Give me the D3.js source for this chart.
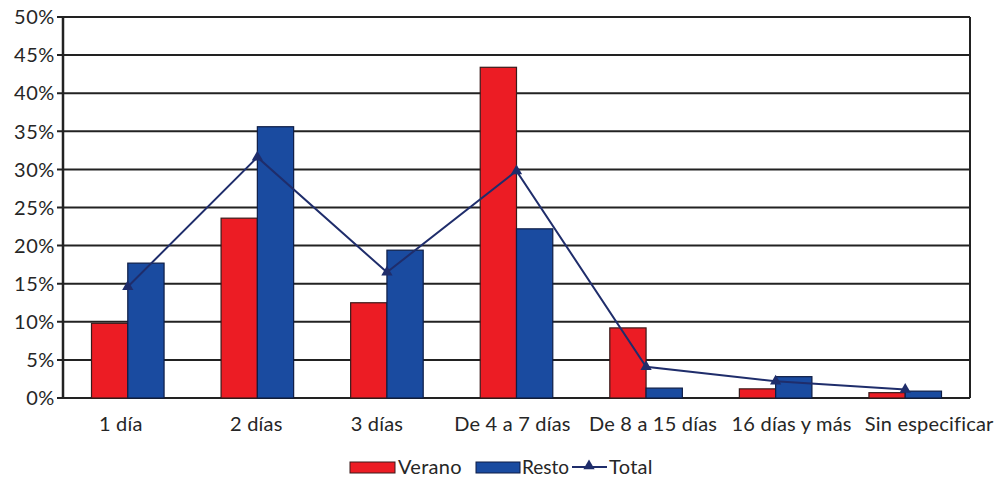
<!DOCTYPE html>
<html><head><meta charset="utf-8">
<script src="https://cdn.jsdelivr.net/npm/d3@7"></script>
<style>body{margin:0;background:#fff}svg{display:block}text{font-family:Lato,"Open Sans",sans-serif;fill:#262626}</style>
</head><body><svg id="c" width="998" height="479"></svg>
<script>
const categories = ["1 día","2 días","3 días","De 4 a 7 días","De 8 a 15 días","16 días y más","Sin especificar"];
const verano = [9.8, 23.6, 12.5, 43.4, 9.2, 1.2, 0.7];
const resto  = [17.7, 35.6, 19.4, 22.2, 1.3, 2.8, 0.9];
const total  = [14.6, 31.6, 16.5, 29.8, 4.1, 2.2, 1.1];
const yTicks = [0,5,10,15,20,25,30,35,40,45,50];
const seriesNames = ["Verano","Resto","Total"];

const svg = d3.select("#c");
const m = {l:63, r:28, t:17, b:81};
const W = 998, H = 479;
const x = d3.scaleBand().domain(categories).range([m.l, W-m.r]).paddingInner(0.44).paddingOuter(0.22);
const xs = d3.scaleBand().domain(["v","r"]).range([0, x.bandwidth()]);
const y = d3.scaleLinear().domain([0,50]).range([H-m.b, m.t]);
const red = "#ec1c24", blue = "#1a4ba0", navy = "#1f2d6b";

// gridlines
svg.append("g").selectAll("line").data(yTicks).join("line")
  .attr("x1", m.l-6).attr("x2", W-m.r).attr("y1", d=>y(d)).attr("y2", d=>y(d))
  .attr("stroke", "#222").attr("stroke-width", 2);
// frame
svg.append("line").attr("x1", m.l).attr("x2", m.l).attr("y1", m.t).attr("y2", y(0)).attr("stroke","#222").attr("stroke-width",2.5);
svg.append("line").attr("x1", W-m.r).attr("x2", W-m.r).attr("y1", m.t).attr("y2", y(0)).attr("stroke","#222").attr("stroke-width",2);

// y labels
svg.append("g").selectAll("text").data(yTicks).join("text")
  .attr("x", m.l-8).attr("y", d=>y(d)).attr("dy","0.36em").attr("text-anchor","end")
  .attr("font-size", 20).attr("letter-spacing", 0.6).text(d=>d+"%");

// bars
const g = svg.append("g");
g.selectAll("rect.v").data(categories).join("rect").attr("class","v")
  .attr("x", d=>x(d)+xs("v")).attr("width", xs.bandwidth())
  .attr("y", (d,i)=>y(verano[i])).attr("height", (d,i)=>y(0)-y(verano[i]))
  .attr("fill", red).attr("stroke","#3a1a1a").attr("stroke-width",1.2);
g.selectAll("rect.r").data(categories).join("rect").attr("class","r")
  .attr("x", d=>x(d)+xs("r")).attr("width", xs.bandwidth())
  .attr("y", (d,i)=>y(resto[i])).attr("height", (d,i)=>y(0)-y(resto[i]))
  .attr("fill", blue).attr("stroke","#0e1d45").attr("stroke-width",1.2);

// total line
const cx = d => x(d) + x.bandwidth()/2;
svg.append("path").datum(categories)
  .attr("d", d3.line().x(d=>cx(d)).y(d=>y(total[categories.indexOf(d)])))
  .attr("fill","none").attr("stroke", navy).attr("stroke-width", 2);
const tri = d3.symbol().type(d3.symbolTriangle).size(55);
svg.append("g").selectAll("path").data(categories).join("path")
  .attr("d", tri).attr("transform", (d,i)=>`translate(${cx(d)},${y(total[i])})`).attr("fill", navy);

// x labels (small nudges as in the original layout)
const labelNudge = [-7, -1, -10, -4, 7, 16, 24];
svg.append("g").selectAll("text").data(categories).join("text")
  .attr("x", (d,i)=>cx(d)+labelNudge[i]).attr("y", y(0)+33).attr("text-anchor","middle")
  .attr("font-size", 20).attr("letter-spacing", 0.2).text(d=>d);

// legend
const lg = svg.append("g").attr("transform","translate(0,467)");
lg.append("rect").attr("x",350).attr("y",-5).attr("width",45).attr("height",11).attr("fill",red).attr("stroke","#3a1a1a");
lg.append("text").attr("x",398).attr("y",0).attr("dy","0.36em").attr("font-size",20).attr("letter-spacing",0.3).text(seriesNames[0]);
lg.append("rect").attr("x",476).attr("y",-5).attr("width",44).attr("height",11).attr("fill",blue).attr("stroke","#0e1d45");
lg.append("text").attr("x",522).attr("y",0).attr("dy","0.36em").attr("font-size",19).text(seriesNames[1]);
lg.append("line").attr("x1",572).attr("x2",607).attr("y1",0).attr("y2",0).attr("stroke",navy).attr("stroke-width",2);
lg.append("path").attr("d",tri).attr("transform","translate(589,-1)").attr("fill",navy);
lg.append("text").attr("x",609).attr("y",0).attr("dy","0.36em").attr("font-size",20).attr("letter-spacing",0.3).text(seriesNames[2]);
</script></body></html>
